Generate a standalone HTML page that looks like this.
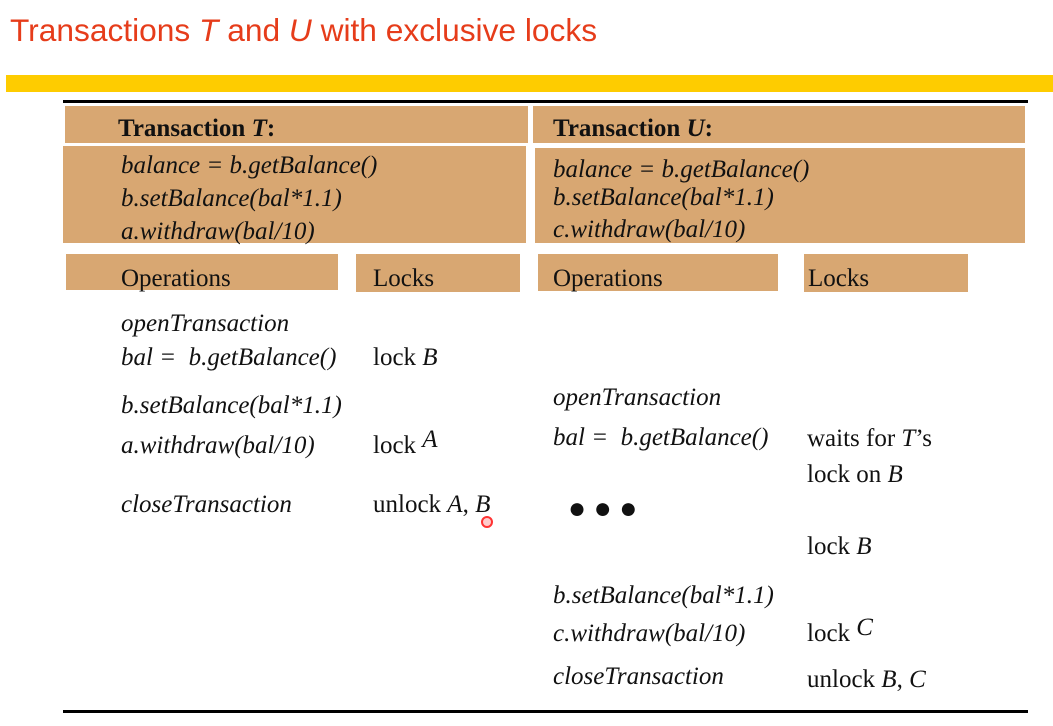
<!DOCTYPE html>
<html><head><meta charset="utf-8"><style>
body{margin:0;width:1053px;height:726px;background:#fff;position:relative;overflow:hidden;font-family:"Liberation Serif",serif;color:#111}
.a{position:absolute;white-space:nowrap}
.box{position:absolute;background:#d8a772}
.t{font-size:25px}
i{font-style:italic}
</style></head><body>
<div class="a" style="left:10px;top:12px;font-family:'Liberation Sans',sans-serif;font-size:31.7px;color:#e63c1a">Transactions <i>T</i> and <i>U</i> with exclusive locks</div>
<div class="a" style="left:6px;top:75px;width:1047px;height:17px;background:#fecc00"></div>
<div class="a" style="left:63px;top:100px;width:965px;height:3px;background:#000"></div>
<div class="a" style="left:63px;top:710px;width:965px;height:3px;background:#000"></div>

<div class="box" style="left:65px;top:106px;width:463px;height:37px"></div>
<div class="box" style="left:63px;top:146px;width:463px;height:97px"></div>
<div class="box" style="left:533px;top:106px;width:492px;height:37px"></div>
<div class="box" style="left:535px;top:148px;width:490px;height:95px"></div>
<div class="box" style="left:66px;top:254px;width:272px;height:36px"></div>
<div class="box" style="left:356px;top:254px;width:164px;height:38px"></div>
<div class="box" style="left:538px;top:254px;width:240px;height:37px"></div>
<div class="box" style="left:804px;top:254px;width:164px;height:38px"></div>

<div class="a t" style="left:118px;top:115px;font-weight:bold">Transaction <i>T</i>:</div>
<div class="a t" style="left:121px;top:149px;line-height:33px"><i>balance = b.getBalance()</i><br><i>b.setBalance(bal*1.1)</i><br><i>a.withdraw(bal/10)</i></div>
<div class="a t" style="left:553px;top:115px;font-weight:bold">Transaction <i>U</i>:</div>
<div class="a t" style="left:553px;top:156px;line-height:28px"><i>balance = b.getBalance()</i><br><i>b.setBalance(bal*1.1)</i></div>
<div class="a t" style="left:553px;top:216px"><i>c.withdraw(bal/10)</i></div>

<div class="a t" style="left:121px;top:265px">Operations</div>
<div class="a t" style="left:373px;top:265px">Locks</div>
<div class="a t" style="left:553px;top:265px">Operations</div>
<div class="a t" style="left:808px;top:265px">Locks</div>

<div class="a t" style="left:121px;top:310px"><i>openTransaction</i></div>
<div class="a t" style="left:121px;top:344px"><i>bal =&nbsp; b.getBalance()</i></div>
<div class="a t" style="left:373px;top:344px">lock <i>B</i></div>
<div class="a t" style="left:121px;top:392px"><i>b.setBalance(bal*1.1)</i></div>
<div class="a t" style="left:121px;top:432px"><i>a.withdraw(bal/10)</i></div>
<div class="a t" style="left:373px;top:432px">lock <i style="position:relative;top:-6px">A</i></div>
<div class="a t" style="left:121px;top:491px"><i>closeTransaction</i></div>
<div class="a t" style="left:373px;top:491px">unlock <i>A</i>, <i>B</i></div>
<div class="a" style="left:481px;top:516px;width:8px;height:8px;border:2px solid #f33;border-radius:50%;background:#fcc"></div>

<div class="a t" style="left:553px;top:384px"><i>openTransaction</i></div>
<div class="a t" style="left:553px;top:424px"><i>bal =&nbsp; b.getBalance()</i></div>
<div class="a t" style="left:807px;top:421px;line-height:36px">waits for <i>T</i>’s<br>lock on <i>B</i></div>
<div class="a" style="left:568px;top:492px;font-size:30px;font-weight:bold">● ● ●</div>
<div class="a t" style="left:807px;top:533px">lock <i>B</i></div>
<div class="a t" style="left:553px;top:582px"><i>b.setBalance(bal*1.1)</i></div>
<div class="a t" style="left:553px;top:620px"><i>c.withdraw(bal/10)</i></div>
<div class="a t" style="left:807px;top:620px">lock <i style="position:relative;top:-6px">C</i></div>
<div class="a t" style="left:553px;top:663px"><i>closeTransaction</i></div>
<div class="a t" style="left:807px;top:666px">unlock <i>B</i>, <i>C</i></div>
</body></html>
